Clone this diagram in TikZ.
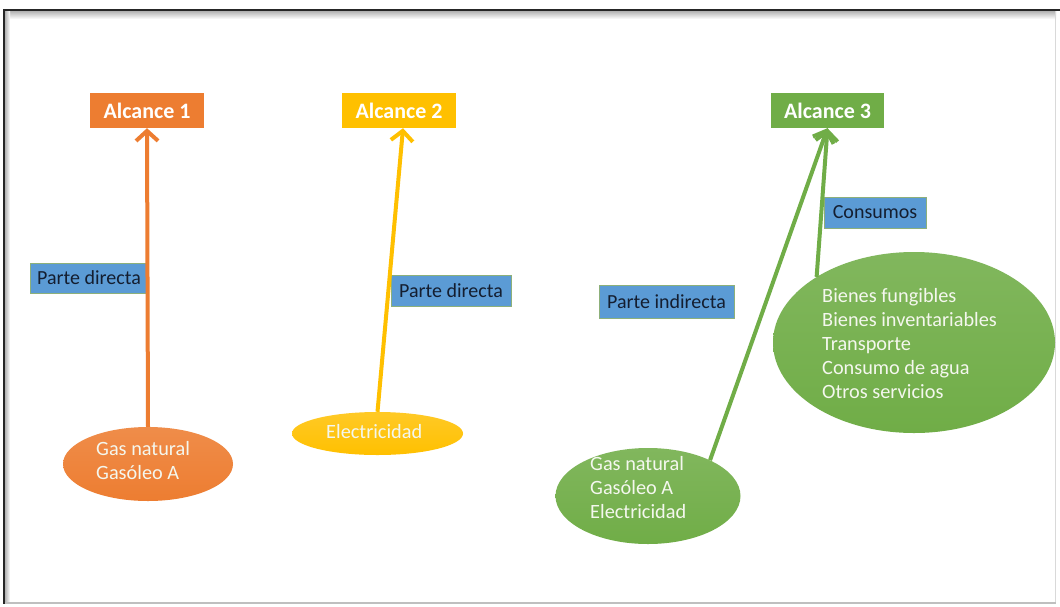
\documentclass[tikz,border=0pt]{standalone}
\usepackage{fontspec}
\setmainfont{Carlito}
\usetikzlibrary{shapes.geometric,arrows.meta,calc}
\definecolor{orng}{HTML}{ED7D31}
\definecolor{yllw}{HTML}{FFC000}
\definecolor{grn}{HTML}{70AD47}
\definecolor{blu}{HTML}{5B9BD5}
\definecolor{tagline}{HTML}{8DB07A}
\definecolor{lighttxt}{HTML}{F4F7EE}
\definecolor{darktxt}{HTML}{141E30}
\begin{document}
\begin{tikzpicture}[x=1pt,y=-1pt,
  scopebox/.style={rectangle, minimum width=114pt, minimum height=35pt, inner sep=0pt,
    text=white, font=\fontsize{22}{26}\selectfont\bfseries},
  tagbox/.style={rectangle, fill=blu, draw=tagline, line width=0.8pt, inner sep=0pt,
    text=darktxt, font=\fontsize{20}{24}\selectfont},
  blob/.style={ellipse, inner sep=0pt},
  blobtxt/.style={anchor=west, align=left, inner sep=0pt, text=lighttxt,
    font=\fontsize{20.3}{24}\selectfont},
  arr/.style={line width=4pt, -{Straight Barb[length=10pt,width=22pt]}}
]
\useasboundingbox (0,0) rectangle (1060,606);
% frame
\fill[white] (4,10) rectangle (1060,606);
\shade[top color=black!30, bottom color=white] (5,11) rectangle (1056,19);
\shade[left color=black!30, right color=white] (5,11) rectangle (10,603);
\draw[black!15, line width=1pt] (1055,11) -- (1055,603);
\draw[black!25, line width=2pt] (4,603) -- (1056,603);
\draw[black!85, line width=2pt] (3,10) -- (1060,10);
\draw[black!85, line width=2pt] (4,9) -- (4,604);

% scope boxes
\node[scopebox, fill=orng] (a1) at (147,110.5) {Alcance 1};
\node[scopebox, fill=yllw] (a2) at (399,110.5) {Alcance 2};
\node[scopebox, fill=grn, minimum width=113pt] (a3) at (827.5,110.5) {Alcance 3};

% ellipses
\node[blob, top color=orng!88!white, bottom color=orng, minimum width=170pt, minimum height=74pt] (e1) at (148,464) {};
\node[blob, top color=yllw!85!white, bottom color=yllw, minimum width=171pt, minimum height=43pt] (e2) at (377.5,433.5) {};
\node[blob, top color=grn!88!white, bottom color=grn, minimum width=185pt, minimum height=96pt] (e3) at (648,496) {};
\node[blob, top color=grn!88!white, bottom color=grn, minimum width=282pt, minimum height=181pt] (e4) at (914,342.5) {};

\node[blobtxt] (t1) at (96,461) {Gas natural\\Gasóleo A};
\node[blobtxt] (t2) at (326,432) {Electricidad};
\node[blobtxt] (t3) at (590,488) {Gas natural\\Gasóleo A\\Electricidad};
\node[blobtxt] (t4) at (822,344) {Bienes fungibles\\Bienes inventariables\\Transporte\\Consumo de agua\\Otros servicios};

% labels
\node[tagbox, minimum width=118pt, minimum height=30pt] (pd1) at (89,278) {Parte directa};
\node[tagbox, minimum width=120pt, minimum height=31pt] (pd2) at (451,290.5) {Parte directa};
\node[tagbox, minimum width=102pt, minimum height=31pt] (cons) at (875,212.5) {Consumos};
\node[tagbox, minimum width=135pt, minimum height=33pt] (pi) at (666.5,301.5) {Parte indirecta};

% arrows
\draw[arr, orng] (e1.north) -- (a1.south);
\draw[arr, yllw] (e2.north) -- ([xshift=4pt]a2.south);
\draw[arr, grn] (e3.30) -- (a3.south);
\draw[arr, grn] (e4.146) -- (a3.south);
\end{tikzpicture}
\end{document}
